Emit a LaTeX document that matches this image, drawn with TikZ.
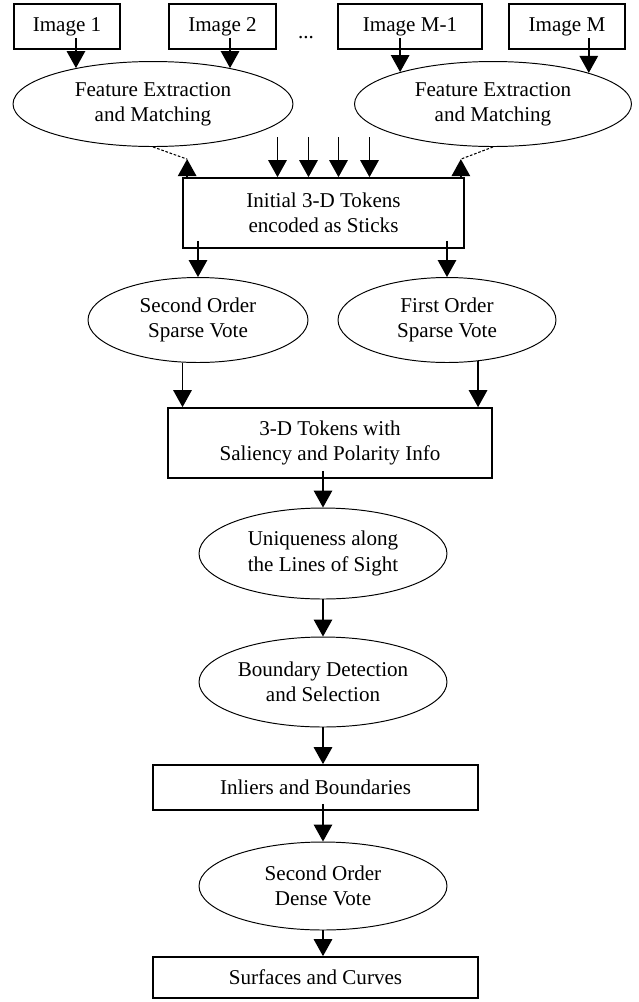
\documentclass[tikz,border=0pt]{standalone}
\usepackage{fontspec}
\setmainfont{Liberation Serif}
\usepackage{tikz}
\usetikzlibrary{arrows.meta, positioning, calc, shapes.geometric}

\tikzset{
    imgbox/.style={draw, line width=1pt, minimum height=0.9cm, inner sep=0pt},
    procbox/.style={draw, line width=1pt, align=center, inner sep=0pt},
    procell/.style={draw, ellipse, line width=0.55pt, align=center, inner sep=0pt},
    arr/.style={line width=0.8pt, -{Triangle[width=0.37cm, length=0.34cm]}},
    feedline/.style={line width=0.6pt, dash pattern=on 1.5pt off 1pt}
}

\begin{document}
\begin{tikzpicture}[x=0.02cm, y=-0.02cm, font=\fontsize{12}{14.3}\selectfont]
    \useasboundingbox (0,0) rectangle (639,1002);

    \node[imgbox, minimum width=2.12cm] (img1) at (67,26.5) {Image 1};
    \node[imgbox, minimum width=2.14cm] (img2) at (222.5,26.5) {Image 2};
    \node (dots) at (306,38) {...};
    \node[imgbox, minimum width=2.88cm] (img3) at (410,26.5) {Image M-1};
    \node[imgbox, minimum width=2.32cm] (img4) at (567,26.5) {Image M};

    \node[procell, minimum width=5.6cm, minimum height=1.7cm] (fe1) at (153,104) {Feature Extraction\\and Matching};
    \node[procell, minimum width=5.54cm, minimum height=1.7cm] (fe2) at (493,104) {Feature Extraction\\and Matching};

    \node[procbox, minimum width=5.62cm, minimum height=1.4cm] (tok) at (323.5,213) {Initial 3-D Tokens\\encoded as Sticks};

    \node[procell, minimum width=4.4cm, minimum height=1.7cm] (svote) at (198,320) {Second Order\\Sparse Vote};
    \node[procell, minimum width=4.36cm, minimum height=1.7cm] (fvote) at (447,320) {First Order\\Sparse Vote};

    \node[procbox, minimum width=6.48cm, minimum height=1.4cm] (tdtok) at (330,443) {3-D Tokens with\\Saliency and Polarity Info};

    \node[procell, minimum width=4.96cm, minimum height=1.82cm] (uniq) at (323,553.5) {Uniqueness along\\the Lines of Sight};
    \node[procell, minimum width=4.96cm, minimum height=1.8cm] (bound) at (323,682) {Boundary Detection\\and Selection};

    \node[procbox, minimum width=6.5cm, minimum height=0.9cm] (inl) at (315.5,787.5) {Inliers and Boundaries};
    \node[procell, minimum width=4.96cm, minimum height=1.76cm] (dense) at (323,886) {Second Order\\Dense Vote};
    \node[procbox, minimum width=6.5cm, minimum height=0.82cm] (surf) at (315.5,977.5) {Surfaces and Curves};

    \draw[arr] ([yshift=0.24cm]fe1.155 |- img1.south) -- (fe1.155);
    \draw[arr] ([yshift=0.24cm]fe1.25 |- img2.south) -- (fe1.25);
    \draw[arr] ([yshift=0.24cm]fe2.161 |- img3.south) -- (fe2.161);
    \draw[arr] ([yshift=0.24cm]fe2.18 |- img4.south) -- (fe2.18);

    \foreach \dx in {-46,-15,15,46}
        \draw[arr] ([xshift=\dx*0.02cm, yshift=0.8cm]tok.north) -- ([xshift=\dx*0.02cm]tok.north);

    \draw[arr] ([xshift=0.1cm]tok.north west) -- ++(0,-18) coordinate (tipl);
    \draw[arr] ([xshift=-0.08cm]tok.north east) -- ++(0,-18) coordinate (tipr);
    \draw[feedline] (fe1.south) -- (tipl);
    \draw[feedline] (fe2.south) -- (tipr);

    \draw[arr] ([yshift=0.16cm]svote.north |- tok.south) -- (svote.north);
    \draw[arr] ([yshift=0.16cm]fvote.north |- tok.south) -- (fvote.north);

    \draw[arr] (svote.250) -- (svote.250 |- tdtok.north);
    \draw[arr] (fvote.307) -- (fvote.307 |- tdtok.north);

    \draw[arr] ([yshift=0.16cm]uniq.north |- tdtok.south) -- (uniq.north);
    \draw[arr] (uniq.south) -- (bound.north);
    \draw[arr] (bound.south) -- (bound.south |- inl.north);
    \draw[arr] ([yshift=0.14cm]dense.north |- inl.south) -- (dense.north);
    \draw[arr] (dense.south) -- (dense.south |- surf.north);
\end{tikzpicture}
\end{document}
